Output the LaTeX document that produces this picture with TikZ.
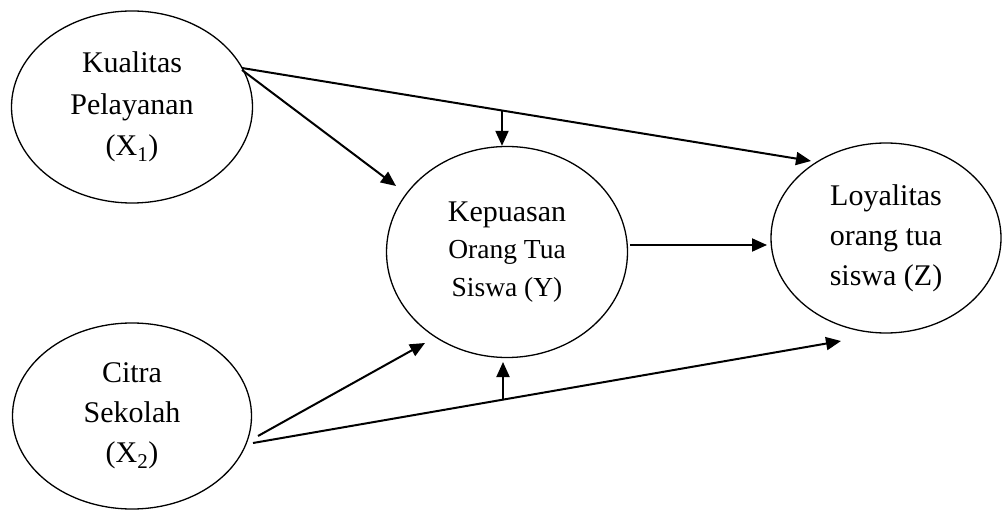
\documentclass[tikz,border=0pt]{standalone}
\usepackage{fontspec}
\setmainfont{Liberation Serif}
\usetikzlibrary{shapes.geometric,arrows.meta}

\begin{document}
\begin{tikzpicture}[x=1pt,y=-1pt,
  var/.style={draw,ellipse,line width=1.3pt,inner sep=0pt,align=center,
    font=\fontsize{30}{41.5}\selectfont},
  arr/.style={line width=2pt,-{Triangle[length=15pt,width=13pt]}}]
\useasboundingbox (0,0) rectangle (1003,510);

% latent variables
\node[var,minimum width=241pt,minimum height=192pt] (x1) at (132,107)
  {Kualitas\\Pelayanan\\(X\textsubscript{1})};
\node[var,minimum width=239pt,minimum height=186pt,
  font=\fontsize{30}{40}\selectfont] (x2) at (132,416)
  {Citra\\Sekolah\\(X\textsubscript{2})};
\node[var,minimum width=241pt,minimum height=211pt,
  font=\fontsize{27.5}{37.5}\selectfont] (y) at (507,252)
  {{\fontsize{30}{37.5}\selectfont Kepuasan}\\Orang Tua\\Siswa (Y)};
\node[var,minimum width=230pt,minimum height=190pt,
  font=\fontsize{30}{40}\selectfont] (z) at (886,238)
  {Loyalitas\\orang tua\\siswa (Z)};

% connector ends
\coordinate (s1) at (242,68);
\coordinate (s2) at (242,70);
\coordinate (tXZ) at (811,161);
\coordinate (tXY) at (396,186);
\coordinate (b1) at (502,110.4);
\coordinate (s3) at (258,436);
\coordinate (s4) at (253,443);
\coordinate (tYB) at (425,343);
\coordinate (tZB) at (841,341);
\coordinate (b2) at (503,400);
\coordinate (ye) at (630,245);
\coordinate (zw) at (767,245);

% paths from X1
\draw[arr] (s1) -- (tXZ);
\draw[arr] (s2) -- (tXY);
\draw[arr] (b1) -- (b1 |- y.north);

% paths from X2
\draw[arr] (s3) -- (tYB);
\draw[arr] (s4) -- (tZB);
\draw[arr] (b2) -- ++(0,-38);

% Y to Z
\draw[arr] (ye) -- (zw);
\end{tikzpicture}
\end{document}
